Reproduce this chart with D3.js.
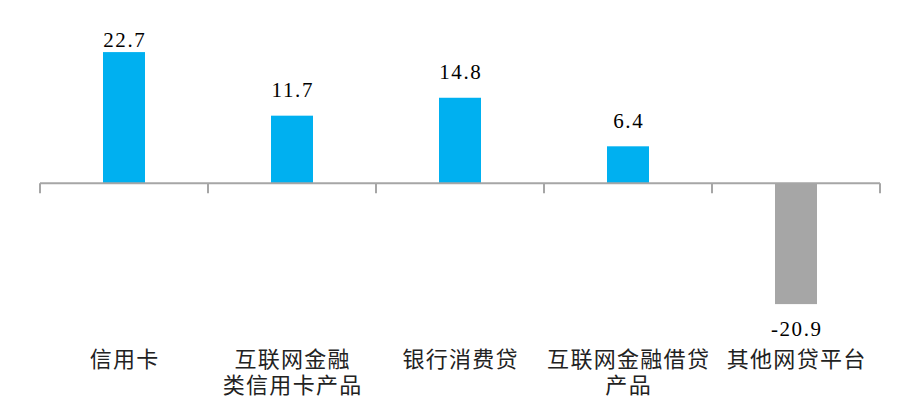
<!DOCTYPE html>
<html>
<head>
<meta charset="utf-8">
<script src="https://cdn.jsdelivr.net/npm/d3@7/dist/d3.min.js"></script>
<style>
  html, body { margin: 0; padding: 0; background: #fff; }
  svg { display: block; }
</style>
</head>
<body>
<div id="chart"></div>
<script>
const categories = ["信用卡", "互联网金融类信用卡产品", "银行消费贷", "互联网金融借贷产品", "其他网贷平台"];
const categoryLines = [["信用卡"], ["互联网金融", "类信用卡产品"], ["银行消费贷"], ["互联网金融借贷", "产品"], ["其他网贷平台"]];
const values = [22.7, 11.7, 14.8, 6.4, -20.9];
const valueLabels = ["22.7", "11.7", "14.8", "6.4", "-20.9"];

const W = 903, H = 411;
const svg = d3.select("#chart").append("svg").attr("width", W).attr("height", H);

const plotLeft = 40, plotRight = 880;
const y = d3.scaleLinear().domain([-25, 25]).range([327.8, 38.8]);
const x = d3.scaleBand().domain(categories).range([plotLeft, plotRight]).paddingInner(0.75).paddingOuter(0.375);
const xCell = d3.scaleBand().domain(categories).range([plotLeft, plotRight]).padding(0);

const y0 = y(0);

// bars
svg.append("g").selectAll("rect").data(values).join("rect")
  .attr("x", (d, i) => x(categories[i]))
  .attr("width", x.bandwidth())
  .attr("y", d => d >= 0 ? y(d) : y0)
  .attr("height", d => Math.abs(y(d) - y0))
  .attr("fill", d => d >= 0 ? "#00B0F0" : "#A6A6A6");

// axis
const axisG = svg.append("g").attr("stroke", "#A6A6A6").attr("stroke-width", 2);
axisG.append("line").attr("x1", plotLeft).attr("x2", plotRight).attr("y1", y0).attr("y2", y0);
const boundaries = categories.map(c => xCell(c)).concat([plotRight]);
axisG.selectAll("line.tick").data(boundaries).join("line").attr("class", "tick")
  .attr("x1", d => d).attr("x2", d => d).attr("y1", y0).attr("y2", y0 + 10);

// value labels
svg.append("g").selectAll("text").data(values).join("text")
  .attr("x", (d, i) => x(categories[i]) + x.bandwidth() / 2 + 0.8)
  .attr("y", d => d >= 0 ? Math.max(y(d) - 18.5, 46.7) : y(d) + 32)
  .attr("text-anchor", "middle")
  .attr("font-family", "'Liberation Serif', 'DejaVu Serif', serif")
  .attr("font-size", 21)
  .attr("letter-spacing", 1.6)
  .attr("fill", "#000")
  .text((d, i) => valueLabels[i]);

// category labels
const catG = svg.append("g")
  .attr("font-family", "'Noto Sans CJK SC', sans-serif")
  .attr("font-size", 22)
  .attr("letter-spacing", 1.3)
  .attr("fill", "#222");
categoryLines.forEach((lines, i) => {
  const cx = xCell(categories[i]) + xCell.bandwidth() / 2 + 0.65;
  const t = catG.append("text").attr("text-anchor", "middle");
  lines.forEach((ln, j) => {
    t.append("tspan").attr("x", cx).attr("y", 366.5 + j * 26.5).text(ln);
  });
});
</script>
</body>
</html>
